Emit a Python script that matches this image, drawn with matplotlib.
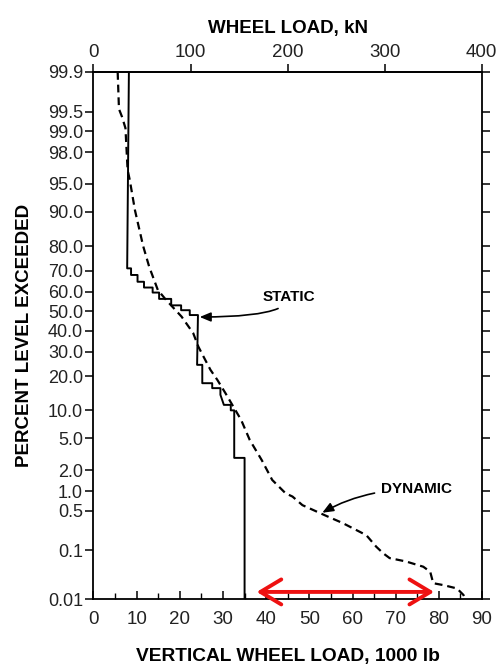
import numpy as np
import matplotlib
matplotlib.use("Agg")
import matplotlib.pyplot as plt
from matplotlib.ticker import FixedLocator, NullLocator, MultipleLocator
from statistics import NormalDist

plt.rcParams["font.family"] = ["Liberation Sans", "DejaVu Sans"]

# Courbe statique (escalier), charge en 1000 lb / pourcentage dépassé
static_lb = [8.2, 7.8, 8.7, 8.7, 10.2, 10.2, 11.7, 11.7, 13.7, 13.7, 15.2, 15.2,
             18.0, 18.0, 20.3, 20.3, 22.3, 22.3, 24.2, 24.0, 25.2, 25.2, 27.5,
             27.5, 29.4, 29.4, 30.2, 31.8, 31.8, 32.6, 32.6, 35.0, 35.0]
static_pct = [99.9, 71.0, 71.0, 68.0, 68.0, 64.8, 64.8, 62.0, 62.0, 59.5, 59.5,
              56.3, 56.3, 53.0, 53.0, 50.5, 50.5, 48.0, 48.0, 24.4, 24.4, 17.6,
              17.6, 16.0, 16.0, 14.0, 11.3, 11.3, 10.0, 10.0, 2.9, 2.9, 0.01]

# Courbe dynamique (tirets)
dynamic_lb = [5.6, 5.9, 6.6, 7.4, 7.9, 8.4, 9.6, 11.5, 12.9, 14.9, 16.8, 20.4,
              23.1, 24.3, 25.5, 27.1, 28.7, 30.6, 32.6, 34.2, 36.2, 39.0, 41.4,
              44.5, 46.1, 48.4, 52.3, 54.2, 57.7, 63.2, 65.5, 67.1, 68.6, 72.4,
              76.4, 78.0, 78.7, 81.1, 84.2, 85.7, 86.1]
dynamic_pct = [99.9, 99.55, 99.4, 99.1, 96.6, 95.5, 90.4, 80.0, 71.7, 60.8, 55.8,
               47.2, 38.8, 32.3, 27.8, 22.4, 18.7, 14.4, 10.5, 8.0, 4.8, 2.7,
               1.46, 0.93, 0.83, 0.61, 0.46, 0.40, 0.31, 0.19, 0.117, 0.088,
               0.071, 0.061, 0.048, 0.038, 0.022, 0.020, 0.017, 0.0123, 0.01]

y_ticks = [0.01, 0.1, 0.5, 1.0, 2.0, 5.0, 10.0, 20.0, 30.0, 40.0, 50.0, 60.0,
           70.0, 80.0, 90.0, 95.0, 98.0, 99.0, 99.5, 99.9]
y_labels = ["0.01", "0.1", "0.5", "1.0", "2.0", "5.0", "10.0", "20.0", "30.0",
            "40.0", "50.0", "60.0", "70.0", "80.0", "90.0", "95.0", "98.0",
            "99.0", "99.5", "99.9"]
x_ticks = [0, 10, 20, 30, 40, 50, 60, 70, 80, 90]
kn_ticks = [0, 100, 200, 300, 400]
KN_PER_KIP = 4.448

# flèche rouge
red_lb = [37.8, 78.9]
red_pct = 0.0143

_nd = NormalDist()


def to_z(p):
    p = np.clip(np.asarray(p, dtype=float) / 100.0, 1e-9, 1 - 1e-9)
    return np.vectorize(_nd.inv_cdf, otypes=[float])(p)


def from_z(z):
    return np.vectorize(_nd.cdf, otypes=[float])(np.asarray(z, dtype=float)) * 100.0


fig = plt.figure(figsize=(5.02, 6.64), dpi=100)
ax = fig.add_axes([93.5 / 502, 65 / 664, 388.5 / 502, 527 / 664])

ax.plot(static_lb, static_pct, color="black", lw=1.4)
ax.plot(dynamic_lb, dynamic_pct, color="black", lw=1.6, ls=(0, (3.5, 2.2)))

ax.set_yscale("function", functions=(to_z, from_z))
ax.set_ylim(0.01, 99.9)
ax.set_xlim(0, 90)

ax.yaxis.set_major_locator(FixedLocator(y_ticks))
ax.yaxis.set_minor_locator(NullLocator())
ax.set_yticklabels(y_labels)
ax.set_xticks(x_ticks)
ax.xaxis.set_minor_locator(MultipleLocator(5))

ax.tick_params(axis="y", which="major", left=True, right=True, direction="out",
               length=6, width=1.1, labelsize=13, pad=1.5, labelcolor="#222222")
ax.tick_params(axis="x", which="major", direction="in", length=6, width=1.1,
               labelsize=13.5, pad=9, labelcolor="#222222")
ax.tick_params(axis="x", which="minor", direction="in", length=4, width=1.0)

for s in ax.spines.values():
    s.set_linewidth(1.3)

top = ax.secondary_xaxis("top", functions=(lambda x: x * KN_PER_KIP,
                                            lambda k: k / KN_PER_KIP))
top.set_xticks(kn_ticks)
top.tick_params(direction="out", length=6, width=1.1, labelsize=13.5, pad=2,
                labelcolor="#222222")
top.spines["top"].set_linewidth(1.3)
top.set_xlabel("WHEEL LOAD, kN", fontsize=13.5, fontweight="bold", labelpad=8)

ax.set_xlabel("VERTICAL WHEEL LOAD, 1000 lb", fontsize=13.8, fontweight="bold",
              labelpad=14)
ax.set_ylabel("PERCENT LEVEL EXCEEDED", fontsize=13.5, fontweight="bold")
ax.yaxis.set_label_coords(-0.156, 0.5)

# étiquettes avec flèches
ax.annotate("STATIC", xy=(24.6, 47.0), xytext=(39.2, 57.3),
            fontsize=11, fontweight="bold", va="center", ha="left",
            arrowprops=dict(arrowstyle="-|>,head_length=0.6,head_width=0.25",
                            color="black", lw=1.2, shrinkA=3, shrinkB=0,
                            connectionstyle="angle3,angleA=90,angleB=0"))
ax.annotate("DYNAMIC", xy=(53.0, 0.46), xytext=(66.7, 1.08),
            fontsize=11, fontweight="bold", va="center", ha="left",
            arrowprops=dict(arrowstyle="-|>,head_length=0.6,head_width=0.25",
                            color="black", lw=1.2, shrinkA=3, shrinkB=0,
                            connectionstyle="angle3,angleA=0,angleB=30"))

ax.annotate("", xy=(red_lb[1], red_pct), xytext=(red_lb[0], red_pct),
            arrowprops=dict(arrowstyle="<->,head_length=0.75,head_width=0.45",
                            color="#ee1111", lw=2.8, mutation_scale=20,
                            shrinkA=0, shrinkB=0))

fig.savefig("out.png", dpi=100)
